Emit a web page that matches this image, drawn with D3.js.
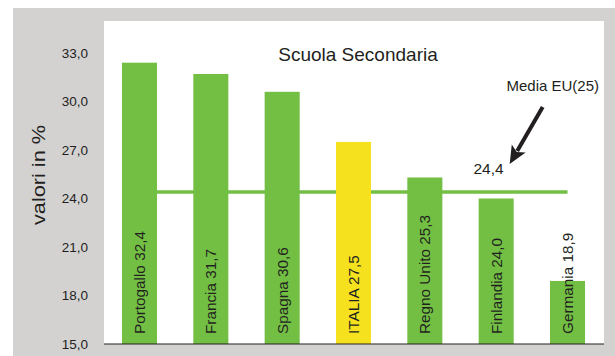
<!DOCTYPE html>
<html>
<head>
<meta charset="utf-8">
<script src="https://cdn.jsdelivr.net/npm/d3@7/dist/d3.min.js"></script>
<style>
  html, body { margin: 0; padding: 0; background: #ffffff; }
  svg { display: block; font-family: "Liberation Sans", Arial, sans-serif; }
</style>
</head>
<body>
<svg id="chart" width="615" height="356"></svg>
<script>
// Tasso di abbandono - Scuola Secondaria
const categories = ["Portogallo", "Francia", "Spagna", "ITALIA", "Regno Unito", "Finlandia", "Germania"];
const values = [32.4, 31.7, 30.6, 27.5, 25.3, 24.0, 18.9];
const highlight = "ITALIA";
const euMean = 24.4;
const euLabel = "Media EU(25)";
const yTicks = [15, 18, 21, 24, 27, 30, 33];
const title = "Scuola Secondaria";
const yTitle = "valori in %";

const fmt = v => d3.format(".1f")(v).replace(".", ",");

const svg = d3.select("#chart");
const W = 615, H = 356;
const plot = { left: 104, right: 604, top: 21, bottom: 344 };

const GREEN = "#72bf44";
const YELLOW = "#f5e11e";
const GRAY = "#d3d2d1";
const TEXT = "#231f20";

// frame
svg.append("rect").attr("x", 13).attr("y", 8).attr("width", W - 13).attr("height", H - 8).attr("fill", GRAY);
svg.append("rect").attr("x", plot.left).attr("y", plot.top)
  .attr("width", plot.right - plot.left).attr("height", plot.bottom - plot.top).attr("fill", "#ffffff");

const x = d3.scaleBand().domain(categories).range([plot.left, 603])
  .paddingInner(0.509).paddingOuter(0.252);
const y = d3.scaleLinear().domain([15, 33]).range([plot.bottom, 53]);

// y axis labels (no line or ticks)
const yAxis = d3.axisLeft(y).tickValues(yTicks).tickFormat(fmt).tickSize(0).tickPadding(0);
const gy = svg.append("g").attr("transform", "translate(88,0)").call(yAxis);
gy.select(".domain").remove();
gy.selectAll("text").attr("font-size", 13.5).attr("fill", TEXT)
  .attr("font-family", "'Liberation Sans', Arial, sans-serif");

// y axis title
svg.append("text")
  .attr("transform", "translate(45,175) rotate(-90)")
  .attr("text-anchor", "middle")
  .attr("font-size", 19)
  .attr("textLength", 100).attr("lengthAdjust", "spacingAndGlyphs")
  .attr("fill", TEXT)
  .text(yTitle);

// title
svg.append("text").attr("x", 358).attr("y", 61).attr("text-anchor", "middle")
  .attr("font-size", 19).attr("fill", TEXT).text(title);

// EU average line, from the first to the last bar centre
const bw = x.bandwidth();
svg.append("line")
  .attr("x1", x(categories[0]) + bw / 2).attr("x2", x(categories[categories.length - 1]) + bw / 2)
  .attr("y1", y(euMean)).attr("y2", y(euMean))
  .attr("stroke", GREEN).attr("stroke-width", 3.5);

// bars
svg.append("g").selectAll("rect").data(categories).join("rect")
  .attr("x", d => x(d)).attr("width", bw)
  .attr("y", (d, i) => y(values[i]))
  .attr("height", (d, i) => y(15) - y(values[i]))
  .attr("fill", d => d === highlight ? YELLOW : GREEN);

// vertical bar labels
svg.append("g").selectAll("text").data(categories).join("text")
  .attr("transform", d => `translate(${x(d) + bw / 2 + 5.5},${plot.bottom - 10}) rotate(-90)`)
  .attr("text-anchor", "start")
  .attr("font-size", 15.3).attr("fill", TEXT)
  .text((d, i) => `${d} ${fmt(values[i])}`);

// x axis baseline
svg.append("line").attr("x1", plot.left).attr("x2", plot.right)
  .attr("y1", plot.bottom).attr("y2", plot.bottom)
  .attr("stroke", TEXT).attr("stroke-width", 1.2);

// EU average annotation
const fin = categories[5];
const labelX = x(fin) + bw - 10;
const labelY = y(euMean) - 18;
svg.append("text").attr("x", labelX).attr("y", labelY).attr("text-anchor", "end")
  .attr("font-size", 15.5).attr("fill", TEXT).text(fmt(euMean));
svg.append("text").attr("x", plot.right - 5).attr("y", 91).attr("text-anchor", "end")
  .attr("font-size", 15).attr("fill", TEXT).text(euLabel);

// arrow pointing at the average value
const tip = [labelX + 6, labelY - 10];
const tail = [tip[0] + 33, 107];
const ang = Math.atan2(tip[1] - tail[1], tip[0] - tail[0]);
const headLen = 18, headHalf = 8;
const base = [tip[0] - headLen * Math.cos(ang), tip[1] - headLen * Math.sin(ang)];
const px = -Math.sin(ang), py = Math.cos(ang);
svg.append("line")
  .attr("x1", tail[0]).attr("y1", tail[1])
  .attr("x2", base[0] + 3 * Math.cos(ang)).attr("y2", base[1] + 3 * Math.sin(ang))
  .attr("stroke", TEXT).attr("stroke-width", 4);
svg.append("path")
  .attr("d", d3.line()([
    tip,
    [base[0] + px * headHalf, base[1] + py * headHalf],
    [base[0] + 4 * Math.cos(ang), base[1] + 4 * Math.sin(ang)],
    [base[0] - px * headHalf, base[1] - py * headHalf]
  ]) + "Z")
  .attr("fill", TEXT);
</script>
</body>
</html>
